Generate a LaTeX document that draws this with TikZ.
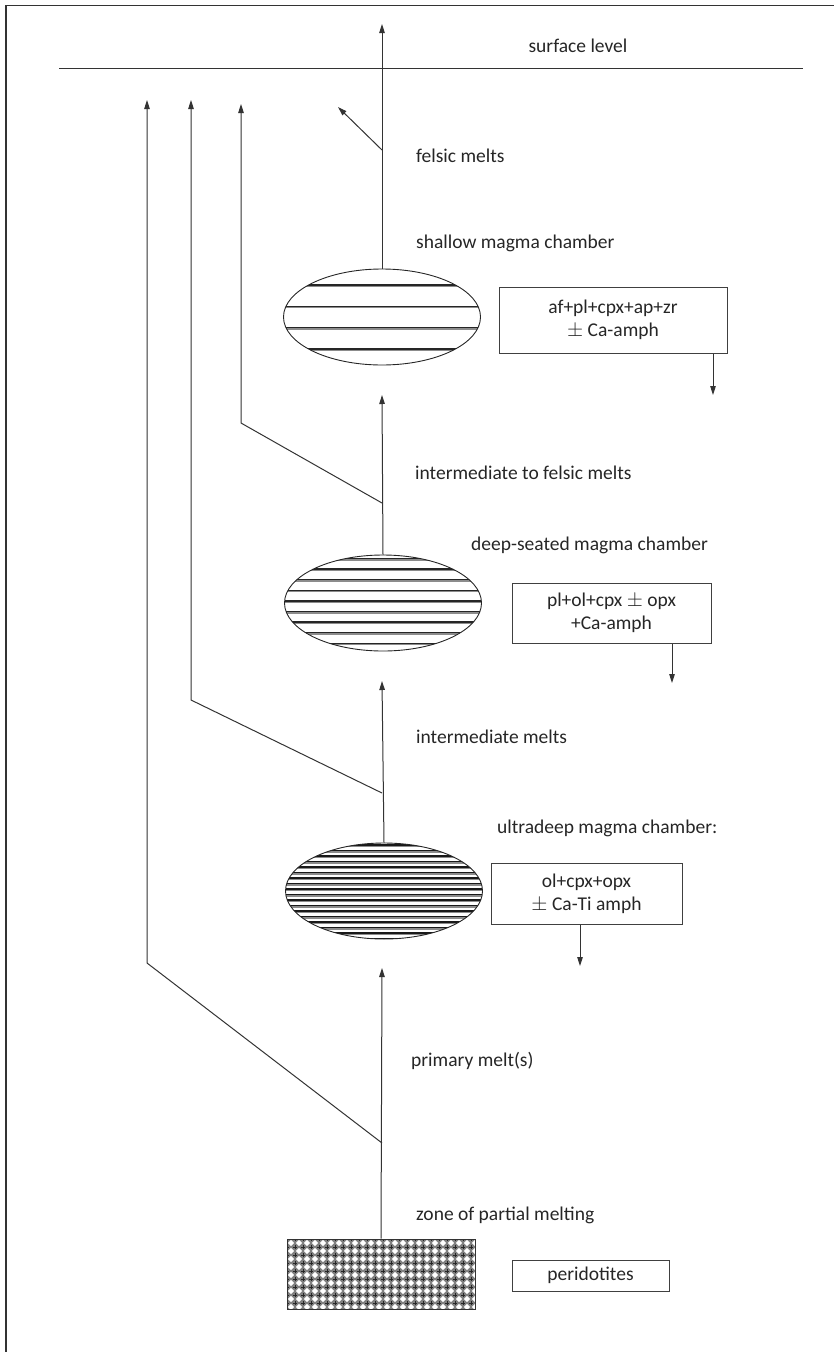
\documentclass[tikz,border=0pt]{standalone}
\usepackage{fontspec}
\setmainfont{Carlito}
\usetikzlibrary{arrows.meta,shapes.geometric}
\begin{document}
\begin{tikzpicture}[x=1pt,y=-1pt,
  lbl/.style={font=\fontsize{19.5}{23}\selectfont, text=black!85, inner sep=0pt, text height=0.72em, text depth=0.22em},
  conn/.style={draw=black!80, line width=1pt},
  arr/.style={conn, -{Triangle[length=9pt,width=5.5pt]}},
  boxn/.style={draw=black!75, line width=1pt, font=\fontsize{19.5}{24}\selectfont, text=black!85, align=center, inner sep=0pt},
  chamber/.style={ellipse, draw=black!85, line width=0.9pt, minimum width=197pt, minimum height=96pt, inner sep=0pt},
  hatch/.style n args={3}{path picture={
    \foreach \k in {0,...,#3} {
      \draw[black!85, line width=1.4pt] ([yshift=-#1pt-#2*\k pt]path picture bounding box.north west) -- ++(200,0);
      \draw[black!45, line width=1.3pt] ([yshift=-#1pt-#2*\k pt-1.4pt]path picture bounding box.north west) -- ++(200,0);
    }}},
]
\useasboundingbox (0,0) rectangle (834,1352);
% frame
\draw[black!80, line width=1.6pt] (6,1352) -- (6,5.5) -- (834,5.5);
% surface
\coordinate (s1) at (59,68);
\coordinate (s2) at (803,68);
\draw[conn] (s1) -- (s2);
\node[lbl] (surf) at (578,50) {surface level};

% chambers
\node[chamber, hatch={16}{21.3}{3}] (e1) at (382,317) {};
\node[chamber, hatch={3.5}{10.6}{8}] (e2) at (383,603) {};
\node[chamber, path picture={
    \foreach \k in {0,...,17} {
      \draw[black!90, line width=1.5pt] ([yshift=-2pt-5.5*\k pt]path picture bounding box.north west) -- ++(200,0);
      \draw[black!45, line width=1.5pt] ([yshift=-3.6pt-5.5*\k pt]path picture bounding box.north west) -- ++(200,0);
    }}] (e3) at (384,891) {};

% peridotite block
\node[draw=black!80, line width=0.8pt, minimum width=188pt, minimum height=70pt, inner sep=0pt,
  path picture={
    \fill[black!50] (path picture bounding box.south west) rectangle (path picture bounding box.north east);
    \foreach \i in {0,...,24} \foreach \j in {0,...,9} {
      \fill[white] ([shift={(\i*8+4,\j*8+4)}]path picture bounding box.north west) +(0,-3.2) -- +(3.2,0) -- +(0,3.2) -- +(-3.2,0) -- cycle;
      \draw[black!85, line width=0.9pt] ([shift={(\i*8-1.8,\j*8)}]path picture bounding box.north west) -- ++(3.6,0)
        ([shift={(\i*8,\j*8-1.8)}]path picture bounding box.north west) -- ++(0,3.6);
    }}] (per) at (381,1274) {};

% mineral boxes
\node[boxn, minimum width=228pt, minimum height=66pt] (b1) at (613,320) {af+pl+cpx+ap+zr\\[-1pt]$\pm$ Ca-amph};
\node[boxn, minimum width=199pt, minimum height=60pt] (b2) at (611.5,613) {pl+ol+cpx $\pm$ opx\\[-1pt]+Ca-amph};
\node[boxn, minimum width=191pt, minimum height=61pt] (b3) at (586.5,893.5) {ol+cpx+opx\\[-1pt]$\pm$ Ca-Ti amph};
\node[boxn, minimum width=157pt, minimum height=31pt] (b4) at (590.5,1275.5) {peridotites};

% labels
\node[lbl, anchor=west] (l1) at (416,160) {felsic melts};
\node[lbl, anchor=west] (l2) at (416,246) {shallow magma chamber};
\node[lbl, anchor=west] (l3) at (415,477) {intermediate to felsic melts};
\node[lbl, anchor=west] (l4) at (471,548) {deep-seated magma chamber};
\node[lbl, anchor=west] (l5) at (416,741) {intermediate melts};
\node[lbl, anchor=west] (l6) at (497,831) {ultradeep magma chamber:};
\node[lbl, anchor=west] (l7) at (411,1064) {primary melt(s)};
\node[lbl, anchor=west] (l8) at (416,1218) {zone of partial melting};

% main column coordinates
\coordinate (t0) at (382,24);
\coordinate (t1) at (382,395);
\coordinate (t2) at (382,681);
\coordinate (t3) at (382,968);
\coordinate (j4) at (382,150);
\coordinate (j3) at (382,503);
\coordinate (j2) at (382,793);
\coordinate (j1) at (382,1143);
\coordinate (o4) at (338,107);
\coordinate (c3) at (241,423);
\coordinate (c2) at (191,700);
\coordinate (c1) at (147,963);
\coordinate (a3) at (241,104);
\coordinate (a2) at (191,100);
\coordinate (a1) at (147,100);

\draw[arr] (per.north) -- (t3);
\draw[arr] (e3.north) -- (t2);
\draw[arr] (e2.north) -- (t1);
\draw[arr] (e1.north) -- (t0);
\draw[arr] (j4) -- (o4);
\draw[arr] (j3) -- (c3) -- (a3);
\draw[arr] (j2) -- (c2) -- (a2);
\draw[arr] (j1) -- (c1) -- (a1);

% box arrows
\coordinate (d1) at (713,395);
\coordinate (d2) at (672,683);
\coordinate (d3) at (580,966);
\draw[arr] (b1.south -| d1) -- (d1);
\draw[arr] (b2.south -| d2) -- (d2);
\draw[arr] (b3.south -| d3) -- (d3);
\end{tikzpicture}
\end{document}
